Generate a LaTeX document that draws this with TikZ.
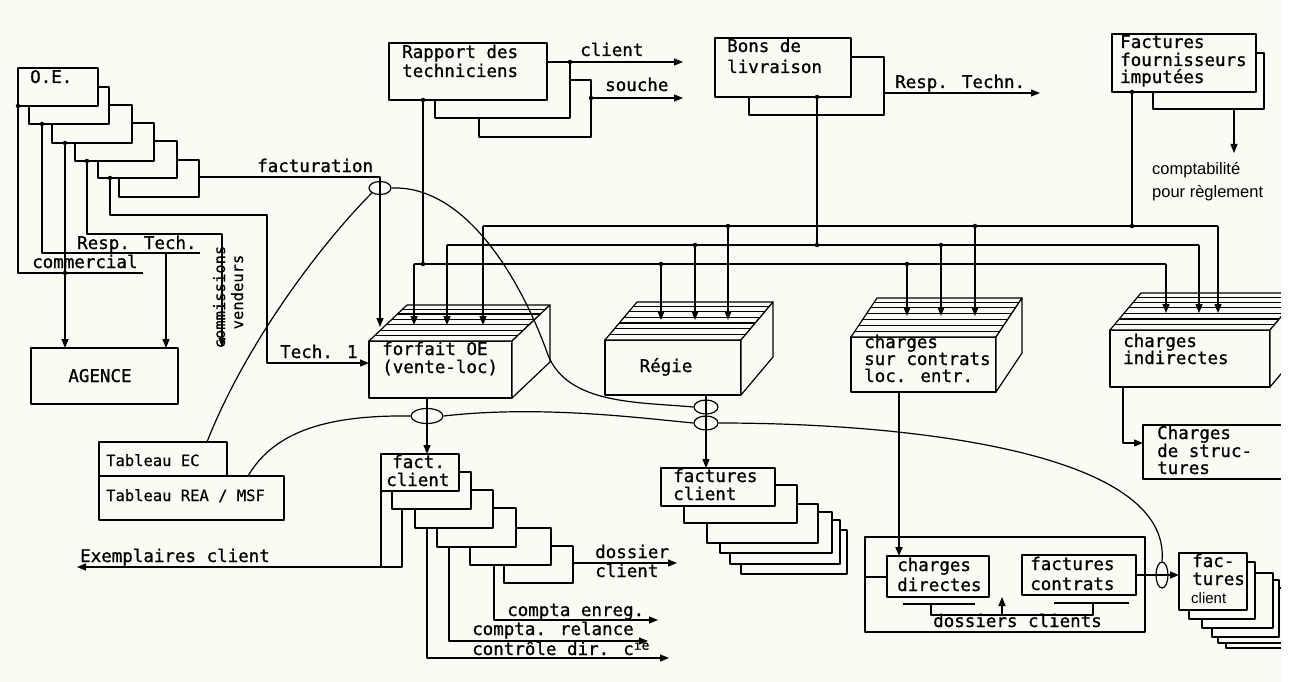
\documentclass[tikz,border=0pt]{standalone}
\usepackage{fontspec}
\usetikzlibrary{arrows.meta,calc,shapes.geometric}
\newfontfamily\tw{DejaVu Sans Mono}[FakeBold=0.9]
\newfontfamily\twl{DejaVu Sans Mono}[FakeBold=0.4]
\newfontfamily\lsans{Liberation Sans}
\definecolor{bg}{RGB}{251,250,243}
\tikzset{
 ln/.style={line width=1.2pt,line join=round},
 arr/.style={ln,-{Triangle[length=9pt,width=7pt]}},
 bx/.style={draw,ln,fill=bg,inner sep=0pt,outer sep=0pt},
 tt/.style={font=\tw\fontsize{17.5}{19}\selectfont,inner sep=0pt,anchor=base west},
 ts/.style={font=\twl\fontsize{15.5}{17}\selectfont,inner sep=0pt,anchor=base west},
 ps/.style={font=\lsans\fontsize{16.5}{18}\selectfont,inner sep=0pt,anchor=base west},
 dot/.style={circle,fill,inner sep=0pt,minimum size=4.5pt},
 ell/.style={draw,ln,ellipse,inner sep=0pt},
}
\newcommand\bxn[5]{\node[bx,anchor=north west,minimum width={(#4-#2)*1pt},minimum height={(#5-#3)*1pt}] (#1) at (#2,#3) {};}
\newcommand\cub[7]{%
 \node[bx,anchor=north west,minimum width=#4pt,minimum height=#5pt] (#1) at (#2,#3) {};
 \draw[ln,fill=bg] (#1.north west) -- ++(#6,-#7) -- ++(#4,0) -- (#1.north east) -- cycle;
 \draw[ln,fill=bg] (#1.north east) -- ++(#6,-#7) -- ++(0,#5) -- (#1.south east) -- cycle;
 \foreach \t in {0.15,0.3,0.45,0.6,0.75,0.88}{\draw[ln] ($(#1.north west)+(\t*#6,-\t*#7)$) -- ++(#4,0);}
}
\begin{document}
\begin{tikzpicture}[x=1pt,y=-1pt]
\fill[bg] (0,0) rectangle (1290,682);
\useasboundingbox (0,0) rectangle (1290,682);
\clip (0,0) rectangle (1290,682);

% ---------- O.E. stack ----------
\bxn{oe6}{119}{160}{199}{197}
\bxn{oe5}{98}{141}{177}{178}
\bxn{oe4}{75}{123}{154}{161}
\bxn{oe3}{52}{105}{132}{143}
\bxn{oe2}{29}{87}{109}{124}
\bxn{oe1}{18}{68}{98}{106}
\node[tt] (tOE) at (30,83) {O.E.};

\bxn{agence}{31}{348}{178}{404}
\node[tt,anchor=base] (tAg) at (100,382) {AGENCE};

\coordinate (d1) at (18,106);
\coordinate (d2) at (42,124);
\coordinate (d3) at (65,143);
\coordinate (d4) at (87,161);
\coordinate (d5) at (110,178);
\coordinate (f0) at (199,177);
\coordinate (cm) at (143,273);
\coordinate (rt) at (200,253);
\coordinate (rtd) at (166,253);
\coordinate (cv1) at (222,234);
\coordinate (cv2) at (222,347);
\coordinate (t1a) at (267,215);
\coordinate (t1b) at (369,363);

\draw[ln] (d1) |- (cm);
\draw[ln] (d2) |- (rt);
\draw[arr] (d3) -- (d3 |- agence.north);
\draw[arr] (rtd) -- (rtd |- agence.north);
\draw[arr] (d4) |- (cv1) -- (cv2);
\draw[arr] (d5) |- (t1a) |- (t1b);
\foreach \p in {d1,d2,d3,d4,d5}{\node[dot] (j\p) at (\p) {};}
\node[dot] (jcm) at (65,273) {};

\node[tt] (tRT) at (77,249) {Resp. Tech.};
\node[tt] (tCo) at (32,268) {commercial};
\node[tt] (tFa) at (257,172) {facturation};
\node[tt] (tT1) at (280,358) {Tech. 1};
\node[ts,rotate=90,anchor=base] (tCm) at (225,297) {commissions};
\node[ts,rotate=90,anchor=base] (tVd) at (243,292) {vendeurs};

% ---------- Rapport des techniciens ----------
\bxn{ra3}{479}{80}{591}{137}
\bxn{ra2}{435}{62}{570}{118}
\bxn{ra1}{389}{43}{547}{100}
\node[tt] (tRa1) at (402,58) {Rapport des};
\node[tt] (tRa2) at (402,77) {techniciens};
\draw[arr] (547,62) -- (683,62);
\draw[arr] (591,98) -- (683,98);
\node[dot] (jcl) at (570,62) {};
\node[dot] (jso) at (591,98) {};
\node[tt] (tCl) at (580,56) {client};
\node[tt] (tSo) at (605,91) {souche};

% ---------- Bons de livraison ----------
\bxn{bl2}{749}{57}{884}{115}
\bxn{bl1}{715}{38}{851}{97}
\node[tt] (tBl1) at (727,52) {Bons de};
\node[tt] (tBl2) at (727,73) {livraison};
\draw[arr] (884,93) -- (1040,93);
\node[tt] (tRTn) at (895,88) {Resp. Techn.};

% ---------- Factures fournisseurs ----------
\bxn{ff2}{1153}{53}{1264}{109}
\bxn{ff1}{1112}{34}{1256}{92}
\node[tt] (tFf1) at (1120,48) {Factures};
\node[tt] (tFf2) at (1120,66) {fournisseurs};
\node[tt] (tFf3) at (1120,83) {imputées};
\draw[arr] (1234,109) -- (1234,153);
\node[ps] (tCp1) at (1152,175) {comptabilité};
\node[ps] (tCp2) at (1152,197) {pour règlement};

% ---------- cuboids ----------
\cub{forfait}{369}{341}{143}{57}{38}{36}
\cub{regie}{605}{340}{136}{55}{32}{38}
\cub{contrats}{851}{337}{145}{55}{26}{39}
\cub{indir}{1110}{330}{160}{57}{31}{37}
\node[tt] (tFo1) at (382,355) {forfait OE};
\node[tt] (tFo2) at (382,373) {(vente-loc)};
\node[tt,anchor=base] (tRe) at (666,372) {Régie};
\node[tt] (tCc1) at (864,348) {charges};
\node[tt] (tCc2) at (864,365) {sur contrats};
\node[tt] (tCc3) at (864,382) {loc. entr.};
\node[tt] (tCi1) at (1123,347) {charges};
\node[tt] (tCi2) at (1123,364) {indirectes};

% ---------- distribution lines ----------
\coordinate (A0) at (483,226); \coordinate (A1) at (1218,226);
\coordinate (B0) at (447,245); \coordinate (B1) at (1199,245);
\coordinate (C0) at (414,264); \coordinate (C1) at (1166,264);
\draw[ln] (A0) -- (A1);
\draw[ln] (B0) -- (B1);
\draw[ln] (C0) -- (C1);
\draw[ln] (ra1.south -| 423,0) -- (423,264);
\draw[ln] (bl1.south -| 817,0) -- (817,245);
\draw[ln] (ff1.south -| 1132,0) -- (1132,226);
\node[dot] (jr) at (423,100) {}; \node[dot] (jr2) at (423,264) {};
\node[dot] (jb) at (817,97) {}; \node[dot] (jb2) at (817,245) {};
\node[dot] (jf) at (1132,92) {}; \node[dot] (jf2) at (1132,226) {};
% forfait
\draw[arr] (f0) -| (380,327);
\draw[arr] (C0) -- (414,325);
\draw[arr] (B0) -- (447,325);
\draw[arr] (A0) -- (483,325);
% regie
\draw[arr] (661,264) -- (661,320); \node[dot] (jg1) at (661,264) {};
\draw[arr] (695,245) -- (695,320); \node[dot] (jg2) at (695,245) {};
\draw[arr] (728,226) -- (728,320); \node[dot] (jg3) at (728,226) {};
% contrats
\draw[arr] (907,264) -- (907,316); \node[dot] (jc1) at (907,264) {};
\draw[arr] (941,245) -- (941,316); \node[dot] (jc2) at (941,245) {};
\draw[arr] (975,226) -- (975,316); \node[dot] (jc3) at (975,226) {};
% indirectes
\draw[arr] (C1) -- (1166,313);
\draw[arr] (B1) -- (1199,313);
\draw[arr] (A1) -- (1218,313);

% ---------- Charges de structures ----------
\bxn{cds}{1143}{425}{1300}{479}
\node[tt] (tCs1) at (1157,439) {Charges};
\node[tt] (tCs2) at (1157,457) {de struc-};
\node[tt] (tCs3) at (1157,474) {tures};
\draw[arr] (1123,387) |- (cds.west |- 0,443);

% ---------- Tableaux ----------
\bxn{tec}{99}{442}{227}{476}
\bxn{trea}{99}{476}{284}{520}
\node[ts] (tTe) at (106,466) {Tableau EC};
\node[ts] (tTr) at (106,501) {Tableau REA / MSF};

% ---------- fact. client stack ----------
\bxn{fc6}{504}{546}{573}{583}
\bxn{fc5}{470}{528}{551}{565}
\bxn{fc4}{437}{508}{516}{547}
\bxn{fc3}{415}{490}{493}{528}
\bxn{fc2}{392}{472}{471}{509}
\bxn{fc1}{381}{454}{459}{491}
\node[tt] (tFc1) at (392,468) {fact.};
\node[tt] (tFc2) at (386,486) {client};
\draw[arr] (427,398) -- (427,454);
\draw[ln] (381,491) -- (381,567);
\draw[arr] (402,509) |- (77,567);
\node[tt] (tEx) at (80,562) {Exemplaires client};
\draw[arr] (573,563) -- (677,563);
\node[tt] (tDo1) at (595,558) {dossier};
\node[tt] (tDo2) at (595,577) {client};
\draw[arr] (494,565) |- (658,620);
\node[tt] (tCe) at (507,616) {compta enreg.};
\draw[arr] (449,547) |- (648,641);
\node[tt] (tCr) at (472,635) {compta. relance};
\draw[arr] (427,528) |- (669,658);
\node[tt] (tCd) at (472,655) {contrôle dir. c\raisebox{0.55ex}{\fontsize{13}{13}\selectfont ie}};

% ---------- factures client (middle) ----------
\bxn{fcl6}{741}{530}{847}{574}
\bxn{fcl5}{730}{520}{840}{564}
\bxn{fcl4}{720}{512}{832}{553}
\bxn{fcl3}{707}{504}{818}{543}
\bxn{fcl2}{684}{485}{797}{523}
\bxn{fcl1}{661}{468}{775}{506}
\node[tt] (tFl1) at (673,482) {factures};
\node[tt] (tFl2) at (673,500) {client};
\draw[arr] (706,395) -- (706,468);

% ---------- dossiers clients ----------
\bxn{dc}{865}{537}{1145}{632}
\bxn{cdir}{887}{556}{989}{597}
\bxn{fcon}{1022}{555}{1136}{595}
\node[tt] (tCh1) at (897,571) {charges};
\node[tt] (tCh2) at (897,591) {directes};
\node[tt] (tFn1) at (1030,570) {factures};
\node[tt] (tFn2) at (1030,590) {contrats};
\draw[ln] (dc.west |- 0,577) -- (cdir.west |- 0,577);
\draw[ln] (903,604) -- (975,604);
\draw[ln] (1054,603) -- (1129,603);
\draw[ln] (931,604) -- (931,615) -- (1093,615) -- (1093,603);
\draw[arr] (1002,615) -- (1002,597);
\node[tt] (tDc) at (933,627) {dossiers clients};
\draw[arr,line width=1.8pt] (899,392) -- (899,556);

% ---------- fac-tures client (right) ----------
\bxn{fr6}{1226}{595}{1300}{648}
\bxn{fr5}{1218}{588}{1300}{643}
\bxn{fr4}{1212}{580}{1279}{637}
\bxn{fr3}{1202}{573}{1273}{628}
\bxn{fr2}{1189}{562}{1255}{619}
\bxn{fr1}{1179}{553}{1247}{610}
\node[tt] (tFr1) at (1192,567) {fac-};
\node[tt] (tFr2) at (1192,585) {tures};
\node[ps,font=\lsans\fontsize{15}{16}\selectfont] (tFr3) at (1191,603) {client};
\draw[arr] (1136,575) -- (1179,575);

% ---------- loops (ellipses and curves) ----------
\node[ell,minimum width=22pt,minimum height=13pt] (e1) at (380,188) {};
\node[ell,minimum width=32pt,minimum height=15pt] (e2) at (427,416) {};
\node[ell,minimum width=24pt,minimum height=14pt] (e3) at (706,407) {};
\node[ell,minimum width=24pt,minimum height=14pt] (e4) at (706,423) {};
\node[ell,minimum width=12pt,minimum height=26pt] (e5) at (1162,575) {};
\coordinate (c1s) at (207,442);
\coordinate (c2s) at (248,476);
\draw[ln] (c1s) .. controls (245,345) and (320,245) .. (e1.south west);
\draw[ln] (e1.east) .. controls (470,185) and (525,290) .. (548,355) .. controls (568,405) and (640,402) .. (e3.west);
\draw[ln] (c2s) .. controls (275,430) and (330,415) .. (e2.west);
\draw[ln] (e2.east) .. controls (540,405) and (640,418) .. (e4.west);
\draw[ln] (e4.east) .. controls (900,423) and (1172,450) .. (e5.north);

\fill[white] (1281,0) rectangle (1290,682);
\end{tikzpicture}
\end{document}
